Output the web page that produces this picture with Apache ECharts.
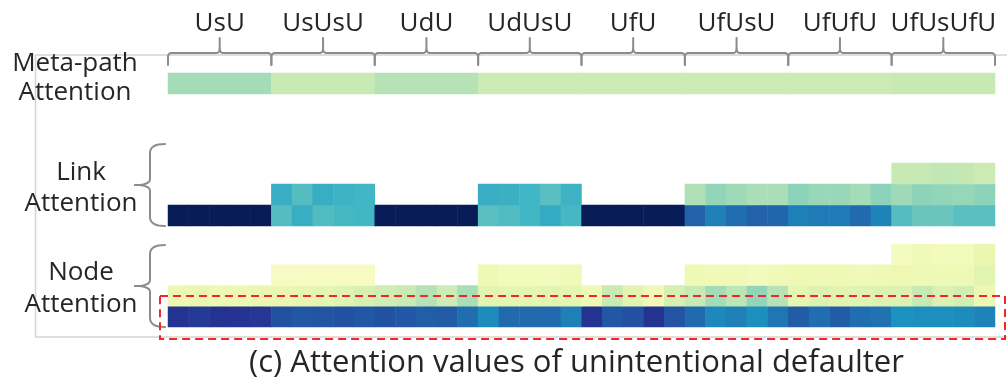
<!DOCTYPE html>
<html>
<head>
<meta charset="utf-8">
<script src="https://cdn.jsdelivr.net/npm/echarts@6/dist/echarts.min.js"></script>
<style>
  html, body { margin: 0; padding: 0; background: #ffffff; }
  #chart { width: 1007px; height: 383px; }
</style>
</head>
<body>
<div id="chart"></div>
<script>
// Meta-paths, each shown with 5 sample columns
const metaPaths = ['UsU', 'UsUsU', 'UdU', 'UdUsU', 'UfU', 'UfUsU', 'UfUfU', 'UfUsUfU'];
const samplesPerPath = 5;

// Meta-path level attention (one value per meta-path)
const metaPathAttention = [0.31, 0.245, 0.28, 0.235, 0.235, 0.235, 0.235, 0.248];

// Link attention, one array per hop (hop 1 drawn at the bottom); null = no such link
const linkHop1 = [
  1.00, 1.00, 1.00, 1.00, 1.00,
  0.46, 0.53, 0.47, 0.49, 0.50,
  1.00, 1.00, 1.00, 1.00, 1.00,
  0.45, 0.47, 0.50, 0.54, 0.49,
  1.00, 1.00, 1.00, 1.00, 1.00,
  0.74, 0.67, 0.71, 0.74, 0.73,
  0.67, 0.68, 0.68, 0.72, 0.66,
  0.46, 0.42, 0.42, 0.45, 0.45
];
const linkHop2 = [
  null, null, null, null, null,
  0.53, 0.46, 0.53, 0.51, 0.50,
  null, null, null, null, null,
  0.53, 0.52, 0.50, 0.45, 0.51,
  null, null, null, null, null,
  0.29, 0.34, 0.32, 0.30, 0.30,
  0.35, 0.33, 0.33, 0.31, 0.35,
  0.32, 0.35, 0.34, 0.335, 0.35
];
const linkHop3 = [
  null, null, null, null, null,
  null, null, null, null, null,
  null, null, null, null, null,
  null, null, null, null, null,
  null, null, null, null, null,
  null, null, null, null, null,
  null, null, null, null, null,
  0.25, 0.25, 0.26, 0.255, 0.235
];

// Node attention, one array per node position (position 1 drawn at the bottom)
const nodePos1 = [
  0.88, 0.86, 0.88, 0.875, 0.87,
  0.79, 0.77, 0.78, 0.79, 0.77,
  0.79, 0.77, 0.75, 0.76, 0.71,
  0.64, 0.72, 0.72, 0.72, 0.67,
  0.88, 0.77, 0.79, 0.88, 0.78,
  0.72, 0.65, 0.67, 0.63, 0.69,
  0.76, 0.71, 0.76, 0.71, 0.70,
  0.625, 0.63, 0.63, 0.64, 0.66
];
const nodePos2 = [
  0.12, 0.13, 0.12, 0.12, 0.13,
  0.13, 0.14, 0.15, 0.17, 0.19,
  0.22, 0.24, 0.28, 0.23, 0.30,
  0.16, 0.15, 0.15, 0.16, 0.15,
  0.11, 0.24, 0.16, 0.10, 0.20,
  0.25, 0.31, 0.27, 0.34, 0.28,
  0.15, 0.18, 0.16, 0.17, 0.18,
  0.18, 0.25, 0.18, 0.21, 0.12
];
const nodePos3 = [
  null, null, null, null, null,
  0.065, 0.065, 0.07, 0.065, 0.07,
  null, null, null, null, null,
  0.11, 0.09, 0.09, 0.09, 0.10,
  null, null, null, null, null,
  0.11, 0.10, 0.10, 0.09, 0.10,
  0.11, 0.11, 0.11, 0.10, 0.11,
  0.12, 0.11, 0.11, 0.11, 0.16
];
const nodePos4 = [
  null, null, null, null, null,
  null, null, null, null, null,
  null, null, null, null, null,
  null, null, null, null, null,
  null, null, null, null, null,
  null, null, null, null, null,
  null, null, null, null, null,
  0.08, 0.10, 0.09, 0.09, 0.13
];

const rowLabels = ['Meta-path\nAttention', 'Link\nAttention', 'Node\nAttention'];
const caption = '(c) Attention values of unintentional defaulter';

// YlGnBu colour ramp
const ylGnBu = ['#ffffd9', '#edf8b1', '#c7e9b4', '#7fcdbb', '#41b6c4', '#1d91c0', '#225ea8', '#253494', '#081d58'];

const FONT = "'Open Sans', 'Noto Sans', 'DejaVu Sans', sans-serif";
const TEXT = '#262626';
const BRACE = '#8c8c8c';

const columns = [];
metaPaths.forEach(p => { for (let k = 1; k <= samplesPerPath; k++) columns.push(p + '-' + k); });

function cells(rows) {
  const out = [];
  rows.forEach((row, r) => row.forEach((v, c) => { if (v !== null) out.push([c, r, v]); }));
  return out;
}

const chart = echarts.init(document.getElementById('chart'), null, { renderer: 'canvas' });

const hiddenCat = (data, grid) => ({
  type: 'category', gridIndex: grid, data: data,
  axisLine: { show: false }, axisTick: { show: false }, axisLabel: { show: false },
  splitLine: { show: false }
});

chart.setOption({
  animation: false,
  backgroundColor: '#ffffff',
  grid: [
    { left: 168, width: 827, top: 73, height: 21 },
    { left: 168, width: 827, top: 163, height: 63 },
    { left: 168, width: 827, top: 244, height: 83 }
  ],
  xAxis: [
    {
      type: 'category', gridIndex: 0, data: metaPaths, position: 'top',
      axisLine: { show: false }, axisTick: { show: false }, splitLine: { show: false },
      axisLabel: { show: true, margin: 36, fontSize: 26, fontFamily: FONT, color: TEXT, interval: 0 }
    },
    hiddenCat(columns, 1),
    hiddenCat(columns, 2)
  ],
  yAxis: [
    hiddenCat(['meta-path'], 0),
    hiddenCat(['hop 1', 'hop 2', 'hop 3'], 1),
    hiddenCat(['node 1', 'node 2', 'node 3', 'node 4'], 2)
  ],
  visualMap: {
    show: false, type: 'continuous', min: 0, max: 1,
    seriesIndex: [0, 1, 2],
    inRange: { color: ylGnBu }
  },
  series: [
    {
      name: 'Meta-path Attention', type: 'heatmap', xAxisIndex: 0, yAxisIndex: 0,
      data: metaPathAttention.map((v, i) => [i, 0, v]),
      itemStyle: { borderWidth: 0 }, emphasis: { disabled: true }
    },
    {
      name: 'Link Attention', type: 'heatmap', xAxisIndex: 1, yAxisIndex: 1,
      data: cells([linkHop1, linkHop2, linkHop3]),
      itemStyle: { borderWidth: 0 }, emphasis: { disabled: true }
    },
    {
      name: 'Node Attention', type: 'heatmap', xAxisIndex: 2, yAxisIndex: 2,
      data: cells([nodePos1, nodePos2, nodePos3, nodePos4]),
      itemStyle: { borderWidth: 0 }, emphasis: { disabled: true }
    }
  ]
});

// Decorations placed from the axes' own pixel positions
const px = (axis, v) => chart.convertToPixel(axis, v);
const metaC0 = px({ xAxisIndex: 0 }, 0);
const metaBand = px({ xAxisIndex: 0 }, 1) - metaC0;
const gridLeft = metaC0 - metaBand / 2;
const gridRight = gridLeft + metaBand * metaPaths.length;
const metaRowC = px({ yAxisIndex: 0 }, 0);
const metaTop = metaRowC - 10.5;

const linkRowH = Math.abs(px({ yAxisIndex: 1 }, 0) - px({ yAxisIndex: 1 }, 1));
const linkBottom = px({ yAxisIndex: 1 }, 0) + linkRowH / 2;
const nodeRowH = Math.abs(px({ yAxisIndex: 2 }, 0) - px({ yAxisIndex: 2 }, 1));
const nodeBottom = px({ yAxisIndex: 2 }, 0) + nodeRowH / 2;
const nodeRow2C = px({ yAxisIndex: 2 }, 1);

// Small stroke builder: straight and quadratic segments flattened into polylines
function Stroke() {
  const runs = [];
  let cur = null;
  return {
    move(x, y) { cur = [[x, y]]; runs.push(cur); return this; },
    line(x, y) { cur.push([x, y]); return this; },
    quad(cx, cy, x, y) {
      const [x0, y0] = cur[cur.length - 1];
      for (let i = 1; i <= 8; i++) {
        const t = i / 8, u = 1 - t;
        cur.push([u * u * x0 + 2 * u * t * cx + t * t * x, u * u * y0 + 2 * u * t * cy + t * t * y]);
      }
      return this;
    },
    runs
  };
}

function topBrace(xL, xR, yLine, yEnd, yTip) {
  const xC = (xL + xR) / 2, r = 4;
  const s = Stroke();
  s.move(xL, yEnd).line(xL, yLine + r).quad(xL, yLine, xL + r, yLine)
   .line(xC - r, yLine).quad(xC, yLine, xC, yLine - r).line(xC, yTip);
  s.move(xC, yLine - r).quad(xC, yLine, xC + r, yLine)
   .line(xR - r, yLine).quad(xR, yLine, xR, yLine + r).line(xR, yEnd);
  return s.runs;
}
function sideBrace(yTop, yBot) {
  const xEnd = gridLeft - 3, xLine = gridLeft - 18, xTip = gridLeft - 33;
  const yMid = (yTop + yBot) / 2;
  const s = Stroke();
  s.move(xEnd, yTop).quad(xLine, yTop, xLine, yTop + 9).line(xLine, yMid - 6)
   .quad(xLine, yMid, xTip, yMid);
  s.move(xTip, yMid).quad(xLine, yMid, xLine, yMid + 6).line(xLine, yBot - 9)
   .quad(xLine, yBot, xEnd, yBot);
  return s.runs;
}

const graphics = [];
const addRuns = runs => runs.forEach(pts => graphics.push({
  type: 'polyline', silent: true, z: 5,
  shape: { points: pts },
  style: { stroke: BRACE, lineWidth: 2, fill: null, lineJoin: 'round', lineCap: 'round' }
}));

// frame
graphics.push({
  type: 'polyline', silent: true, z: 1,
  shape: { points: [[1010, metaTop - 18], [35.5, metaTop - 18], [35.5, nodeBottom + 10], [1010, nodeBottom + 10]] },
  style: { stroke: '#d3d3d3', lineWidth: 1.5, fill: null }
});
// braces above the meta-path row
metaPaths.forEach((p, i) => {
  const xL = gridLeft + metaBand * i, xR = xL + metaBand;
  addRuns(topBrace(xL, xR, metaTop - 20, metaTop - 8, metaTop - 35));
});
// side braces
[linkBottom, nodeBottom].forEach(b => addRuns(sideBrace(b - 82, b)));

// row labels
const labelPos = [[75, metaRowC - 5, 29], [81, linkBottom - 38, 31], [81, nodeBottom - 38, 32]];
rowLabels.forEach((t, i) => {
  graphics.push({
    type: 'text', silent: true, z: 5,
    style: {
      text: t, x: labelPos[i][0], y: labelPos[i][1], align: 'center', verticalAlign: 'middle',
      font: `26px ${FONT}`, fill: TEXT, lineHeight: labelPos[i][2]
    }
  });
});
// highlight box around the bottom node row
graphics.push({
  type: 'rect', silent: true, z: 50,
  shape: { x: gridLeft - 8, y: nodeRow2C, width: gridRight + 10 - (gridLeft - 8), height: nodeBottom + 12 - nodeRow2C },
  style: { stroke: '#f0282a', lineWidth: 2, lineDash: [8, 5], fill: null }
});
// caption
graphics.push({
  type: 'text', silent: true, z: 5,
  style: {
    text: caption, x: (gridLeft + gridRight) / 2 - 5, y: nodeBottom + 36, align: 'center', verticalAlign: 'middle',
    font: `31px ${FONT}`, fill: TEXT
  }
});

chart.setOption({ graphic: graphics });
</script>
</body>
</html>
